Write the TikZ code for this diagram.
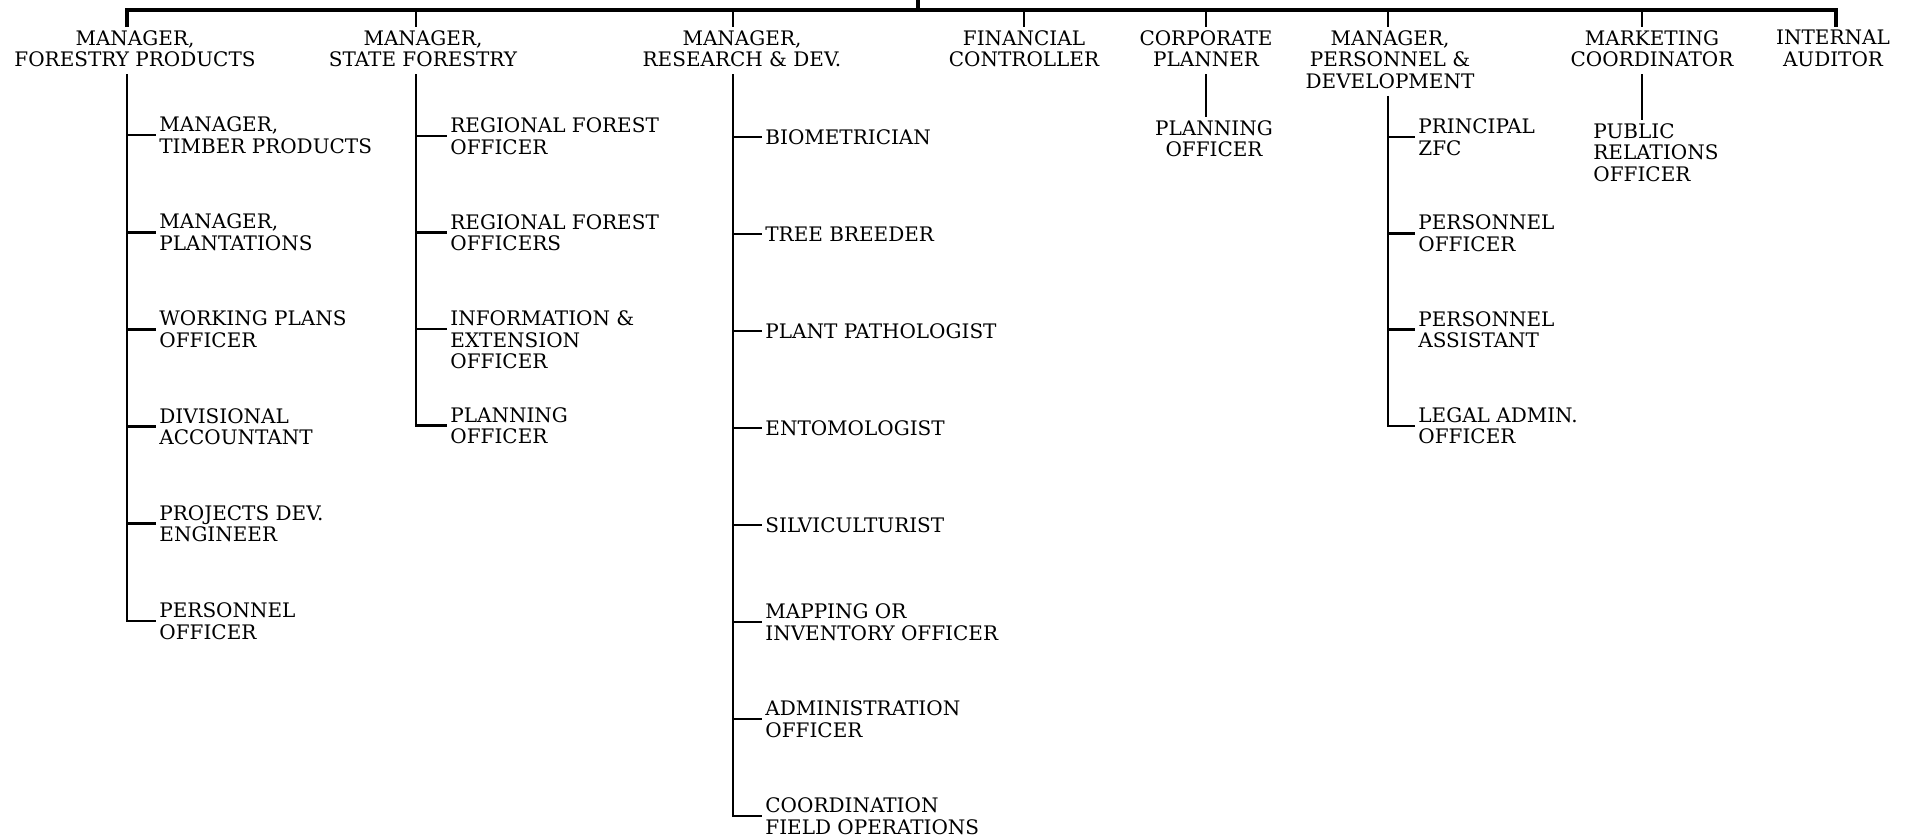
\documentclass[tikz,border=0pt]{standalone}
\usepackage{fontspec}
\setmainfont{DejaVu Serif}
\usetikzlibrary{positioning}

\begin{document}
\begin{tikzpicture}[
    x=0.5pt, y=-0.5pt,
    every node/.style={font=\fontsize{10}{10.75}\selectfont, inner sep=0pt},
    head/.style={anchor=north, align=center, inner ysep=1.5pt},
    post/.style={anchor=west, align=left, inner xsep=1.5pt},
    tie/.style={line width=1.4pt},
    bar/.style={line width=1.6pt},
]
    \useasboundingbox (0,0) rectangle (1907,836);

    % points where the divisions hang from the bar
    \coordinate (top) at (918,0);
    \coordinate (root) at (918,10);
    \coordinate (fpd) at (127,10);
    \coordinate (sfd) at (416,10);
    \coordinate (rdd) at (733,10);
    \coordinate (fcd) at (1024,10);
    \coordinate (cpd) at (1206,10);
    \coordinate (pdd) at (1388,10);
    \coordinate (mcd) at (1642,10);
    \coordinate (iad) at (1836,10);

    % heads of division
    \node[head] (fp) at (135,27) {MANAGER,\\FORESTRY PRODUCTS};
    \node[head] (sf) at (423,27) {MANAGER,\\STATE FORESTRY};
    \node[head] (rd) at (742,27) {MANAGER,\\RESEARCH \& DEV.};
    \node[head] (fc) at (1024,27) {FINANCIAL\\CONTROLLER};
    \node[head] (cp) at (1206,27) {CORPORATE\\PLANNER};
    \node[head] (pd) at (1390,27) {MANAGER,\\PERSONNEL \&\\DEVELOPMENT};
    \node[head] (mc) at (1652,27) {MARKETING\\COORDINATOR};
    \node[head] (ia) at (1833,27) {INTERNAL\\AUDITOR};

    \draw[bar] (top) -- (root);
    \draw[bar] (fpd |- fp.north) -- (fpd) -- (iad) -- (iad |- ia.north);
    \foreach \d/\h in {sfd/sf, rdd/rd, fcd/fc, cpd/cp, pdd/pd, mcd/mc}
        \draw[tie] (\d) -- (\d |- \h.north);

    % forestry products
    \foreach \txt [count=\i] in {{MANAGER,\\TIMBER PRODUCTS}, {MANAGER,\\PLANTATIONS},
        {WORKING PLANS\\OFFICER}, {DIVISIONAL\\ACCOUNTANT}, {PROJECTS DEV.\\ENGINEER},
        {PERSONNEL\\OFFICER}}
        \node[post] (fp\i) at (156,{135+97.2*(\i-1)}) {\txt};
    \draw[tie] (fpd |- fp.south) ++(0,4) |- (fp6.west);
    \foreach \i in {1,...,5}
        \draw[tie] (fpd |- fp\i.west) -- (fp\i.west);

    % state forestry
    \node[post] (sf1) at (447,136) {REGIONAL FOREST\\OFFICER};
    \node[post] (sf2) at (447,232.5) {REGIONAL FOREST\\OFFICERS};
    \node[post] (sf3) at (447,339.75) {INFORMATION \&\\EXTENSION\\OFFICER};
    \node[post] (sf4) at (447,425.5) {PLANNING\\OFFICER};
    \coordinate (sf3t) at ([yshift=5.4pt]sf3.west);
    \draw[tie] (sfd |- sf.south) ++(0,4) |- (sf4.west);
    \draw[tie] (sfd |- sf1.west) -- (sf1.west);
    \draw[tie] (sfd |- sf2.west) -- (sf2.west);
    \draw[tie] (sfd |- sf3t) -- (sf3t);

    % research and development
    \foreach \txt [count=\i] in {BIOMETRICIAN, TREE BREEDER, PLANT PATHOLOGIST,
        ENTOMOLOGIST, SILVICULTURIST, {MAPPING OR\\INVENTORY OFFICER},
        {ADMINISTRATION\\OFFICER}, {COORDINATION\\FIELD OPERATIONS}}
        \node[post] (rd\i) at (762,{137+97*(\i-1)}) {\txt};
    \draw[tie] (rdd |- rd.south) ++(0,4) |- (rd8.west);
    \foreach \i in {1,...,7}
        \draw[tie] (rdd |- rd\i.west) -- (rd\i.west);

    % corporate planner
    \node[head] (po) at (1214,117) {PLANNING\\OFFICER};
    \draw[tie] (cpd |- cp.south) ++(0,4) -- (cpd |- po.north);

    % personnel and development
    \foreach \txt [count=\i] in {{PRINCIPAL\\ZFC}, {PERSONNEL\\OFFICER},
        {PERSONNEL\\ASSISTANT}, {LEGAL ADMIN.\\OFFICER}}
        \node[post] (pd\i) at (1415,{137+96.3*(\i-1)}) {\txt};
    \draw[tie] (pdd |- pd.south) ++(0,4) |- (pd4.west);
    \foreach \i in {1,...,3}
        \draw[tie] (pdd |- pd\i.west) -- (pd\i.west);

    % marketing coordinator
    \node[anchor=north west, align=left, inner ysep=1.5pt] (pr) at (1593,120) {PUBLIC\\RELATIONS\\OFFICER};
    \draw[tie] (mcd |- mc.south) ++(0,4) -- (mcd |- pr.north);
\end{tikzpicture}
\end{document}
